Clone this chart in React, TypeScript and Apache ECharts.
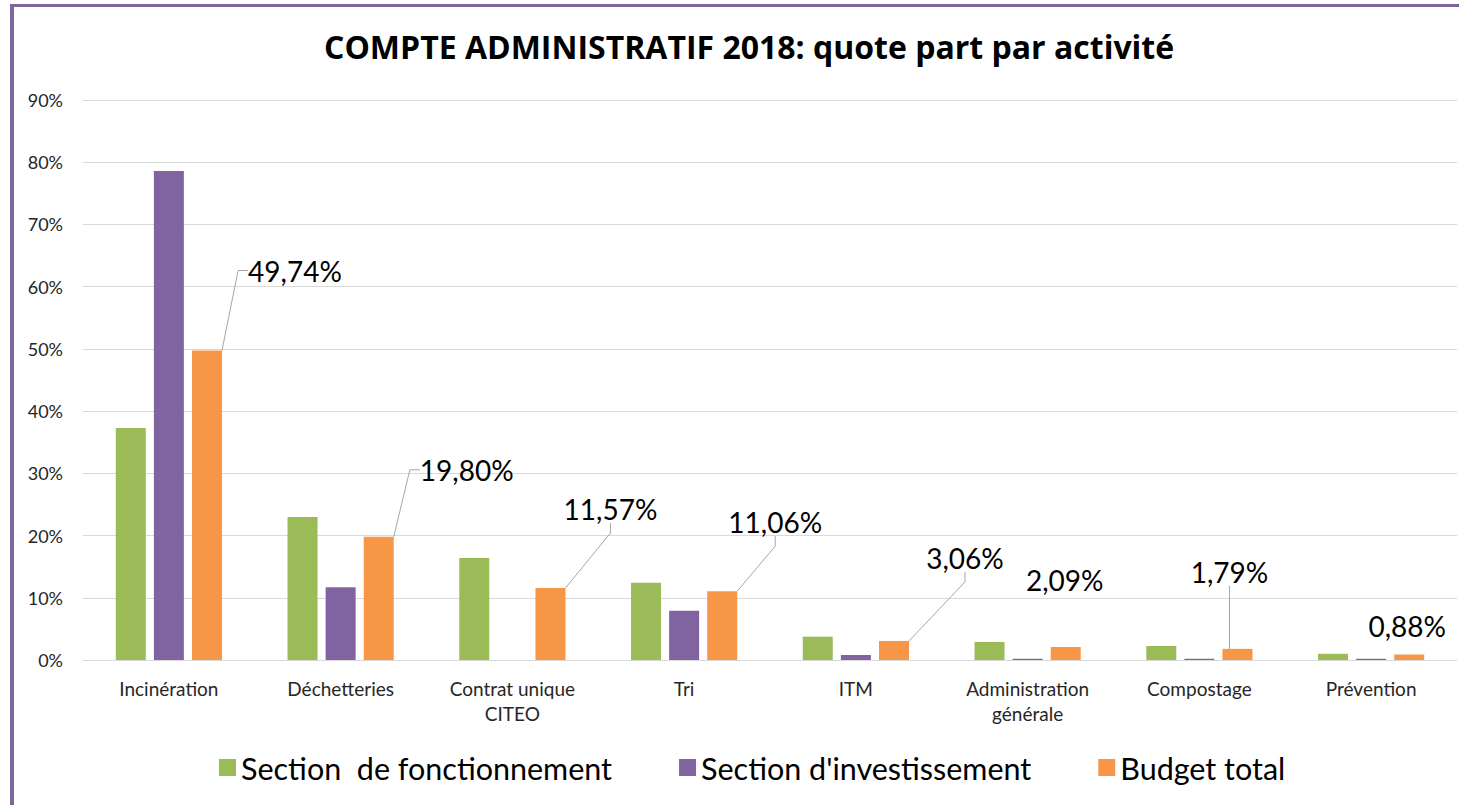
import React, { useEffect, useRef } from "react";
import * as echarts from "echarts";

const categories = [
  "Incinération",
  "Déchetteries",
  "Contrat unique\nCITEO",
  "Tri",
  "ITM",
  "Administration\ngénérale",
  "Compostage",
  "Prévention",
];
const fonctionnement = [37.3, 23.0, 16.4, 12.4, 3.75, 2.9, 2.25, 1.0];
const investissement = [78.6, 11.7, 0, 7.9, 0.8, 0.2, 0.2, 0.2];
const budgetTotal = [49.74, 19.8, 11.57, 11.06, 3.06, 2.09, 1.79, 0.88];
const yTicks = [0, 10, 20, 30, 40, 50, 60, 70, 80, 90];

// label offsets (styling) relative to bar top centre
const labelDx = [88, 88, 60, 53, 71, -1, -8, -2];
const labelDy = [-80, -67, -79, -69, -83, -67, -77, -29];
const hasLeader = [true, true, true, true, true, false, true, false];

const FONT = "Lato";

export default function App() {
  const ref = useRef<HTMLDivElement>(null);
  useEffect(() => {
    const chart = echarts.init(ref.current!, null, { renderer: "svg" });
    const fmt = (v: number) => v.toFixed(2).replace(".", ",") + "%";
    chart.setOption({
      animation: false,
      backgroundColor: "#ffffff",
      title: {
        text: "COMPTE ADMINISTRATIF 2018: quote part par activité",
        left: 319,
        top: 25,
        textStyle: { fontFamily: "Open Sans", fontSize: 32, fontWeight: "bold", color: "#000000" },
      },
      graphic: [
        { type: "rect", shape: { x: 10, y: 4, width: 4, height: 801 }, style: { fill: "#8064a2" } },
        { type: "rect", shape: { x: 10, y: 4, width: 1449, height: 3 }, style: { fill: "#8064a2" } },
      ],
      legend: {
        left: 214,
        top: 747,
        itemWidth: 17,
        itemHeight: 17,
        itemGap: 67,
        icon: "rect",
        textStyle: { fontFamily: FONT, fontSize: 30.5, color: "#000000", padding: [0, 0, 0, 0] },
        data: ["Section  de fonctionnement", "Section d'investissement", "Budget total"],
      },
      grid: { left: 83, right: 2, top: 100, bottom: 145, containLabel: false },
      xAxis: {
        type: "category",
        data: categories,
        axisLine: { lineStyle: { color: "#d9d9d9", width: 1 } },
        axisTick: { show: false },
        axisLabel: {
          fontFamily: FONT,
          fontSize: 19,
          color: "#262626",
          margin: 16,
          lineHeight: 25,
          interval: 0,
        },
      },
      yAxis: {
        type: "value",
        min: 0,
        max: 90,
        interval: 10,
        axisLine: { show: false },
        axisTick: { show: false },
        splitLine: { lineStyle: { color: "#d9d9d9", width: 1 } },
        axisLabel: {
          fontFamily: FONT,
          fontSize: 18,
          color: "#262626",
          margin: 20,
          formatter: (v: number) => (yTicks.includes(v) ? v + "%" : ""),
        },
      },
      series: [
        {
          name: "Section  de fonctionnement",
          type: "bar",
          data: fonctionnement,
          barWidth: 30,
          barGap: "27%",
          itemStyle: { color: "#9bbb59" },
        },
        {
          name: "Section d'investissement",
          type: "bar",
          data: investissement,
          barWidth: 30,
          barGap: "27%",
          itemStyle: { color: "#8064a2" },
        },
        {
          name: "Budget total",
          type: "bar",
          barWidth: 30,
          barGap: "27%",
          itemStyle: { color: "#f79646" },
          data: budgetTotal.map((v, i) => ({
            value: v,
            labelLine: { show: hasLeader[i] },
          })),
          label: {
            show: true,
            position: "top",
            fontFamily: FONT,
            fontSize: 28,
            color: "#000000",
            formatter: (p: any) => fmt(p.value),
          },
          labelLine: {
            show: true,
            length2: 10,
            lineStyle: { color: "#a6a6a6", width: 1 },
          },
          labelLayout: (p: any) => {
            const i = p.dataIndex;
            const cx = p.rect.x + p.rect.width / 2;
            return {
              x: cx + labelDx[i],
              y: p.rect.y + labelDy[i],
              align: "center",
              verticalAlign: "middle",
            };
          },
        },
      ],
    });
    return () => chart.dispose();
  }, []);
  return (
    <div
      ref={ref}
      style={{ position: "fixed", left: 0, top: 0, width: 1459, height: 805, background: "#fff" }}
    />
  );
}
